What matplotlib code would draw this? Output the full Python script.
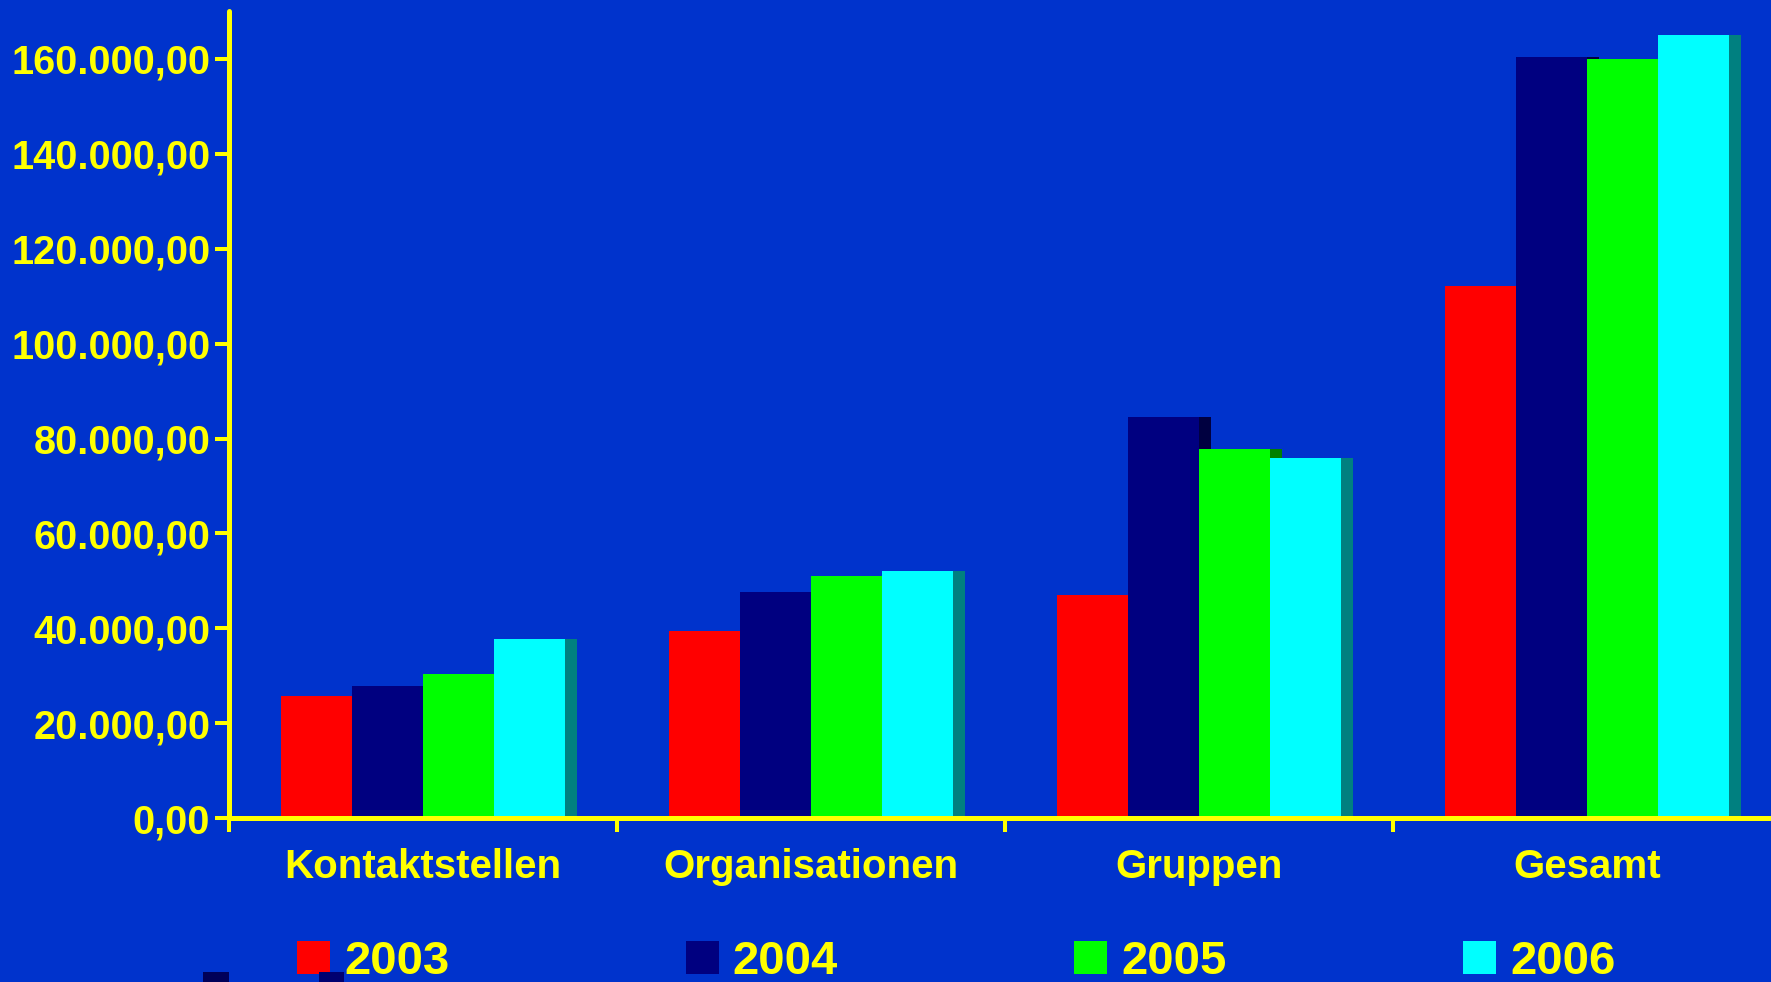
import numpy as np
import matplotlib
matplotlib.use("Agg")
import matplotlib.pyplot as plt
from matplotlib.patches import Rectangle
from matplotlib.ticker import FuncFormatter

plt.rcParams['font.family'] = ['Liberation Sans', 'DejaVu Sans']

categories = ["Kontaktstellen", "Organisationen", "Gruppen", "Gesamt"]
years = ["2003", "2004", "2005", "2006"]
v2003 = [25760, 39450, 47030, 112190]
v2004 = [27870, 47660, 84530, 160360]
v2005 = [30400, 51030, 77790, 159940]
v2006 = [37770, 52090, 75970, 164990]
series = [v2003, v2004, v2005, v2006]

bg = '#0033CC'
yellow = '#FFFF00'
front = ['#FF0000', '#000080', '#00FF00', '#00FFFF']
side = ['#800000', '#000040', '#008000', '#008080']

W, H = 1771, 982
fig = plt.figure(figsize=(W / 100, H / 100), dpi=100, facecolor=bg)
ax = fig.add_axes([229 / W, 163.7 / H, 1552 / W, 807 / H])
ax.set_facecolor(bg)

x = np.arange(len(categories))
w = 0.183      # bar width (category = 1)
off = 0.134    # gap before first bar
depth = 0.031  # fake 3d side face

for i, vals in enumerate(series):
    left = x + off + i * w
    # side face first, the next series' front hides most of it
    ax.bar(left + w, vals, width=depth, align='edge', color=side[i],
           linewidth=0, zorder=2 + 2 * i)
    ax.bar(left, vals, width=w, align='edge', color=front[i],
           linewidth=0, zorder=3 + 2 * i, label=years[i])

ax.set_xlim(0, 4)
ax.set_ylim(0, 170000)
ax.set_yticks(np.arange(0, 160001, 20000))
ax.yaxis.set_major_formatter(FuncFormatter(
    lambda v, p: f"{v:,.2f}".replace(",", "X").replace(".", ",").replace("X", ".")))

for s in ['top', 'right']:
    ax.spines[s].set_visible(False)
for s in ['left', 'bottom']:
    ax.spines[s].set_color(yellow)
    ax.spines[s].set_linewidth(3.6)
    ax.spines[s].set_zorder(20)
    ax.spines[s].set_capstyle('round')

ax.tick_params(axis='y', colors=yellow, length=10, width=2.9, pad=3.5,
               labelsize=28.5, zorder=20)
for lab in ax.get_yticklabels():
    lab.set_fontweight('bold')

ax.set_xticks([0, 1, 2, 3, 4])
ax.set_xticklabels([])
ax.tick_params(axis='x', colors=yellow, length=10, width=2.9, direction='out')

for xi, name in zip(x, categories):
    ax.annotate(name, xy=(xi + 0.5, 0), xycoords=('data', 'axes fraction'),
                xytext=(0, -43), textcoords='offset points',
                ha='center', va='baseline', color=yellow,
                fontsize=29, fontweight='bold', annotation_clip=False)

leg = ax.legend(loc='lower left', bbox_to_anchor=(297 / W, -2 / H),
                bbox_transform=fig.transFigure, ncol=4, frameon=False,
                prop={'weight': 'bold', 'size': 34},
                handlelength=0.7, handleheight=0.68, handletextpad=0.3,
                columnspacing=5.0, borderpad=0, borderaxespad=0)
for t in leg.get_texts():
    t.set_color(yellow)

# stray dark marks at the bottom left of the slide
fig.patches.append(Rectangle((203 / W, 0), 26 / W, 10 / H, transform=fig.transFigure,
                             facecolor='#000058', edgecolor='none', zorder=0))
fig.patches.append(Rectangle((319 / W, 0), 25 / W, 10 / H, transform=fig.transFigure,
                             facecolor='#000070', edgecolor='none', zorder=0))

fig.savefig("out.png", dpi=100, facecolor=bg)
